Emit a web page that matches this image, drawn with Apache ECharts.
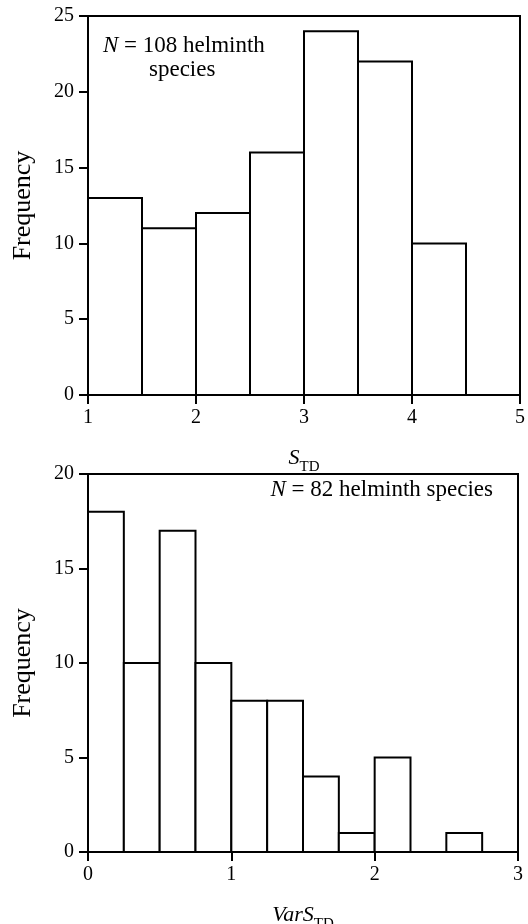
<!DOCTYPE html>
<html>
<head>
<meta charset="utf-8">
<script src="https://cdn.jsdelivr.net/npm/echarts@6/dist/echarts.min.js"></script>
<style>
  html, body { margin: 0; padding: 0; background: #fff; }
  #chart { width: 528px; height: 924px; }
</style>
</head>
<body>
<div id="chart"></div>
<script>
  // top panel: S_TD histogram
  var stdBinStart = [1, 1.5, 2, 2.5, 3, 3.5, 4, 4.5]
  var stdBinWidth = 0.5
  var stdCounts = [13, 11, 12, 16, 24, 22, 10, 0]
  var stdXTicks = [1, 2, 3, 4, 5]
  var stdYTicks = [0, 5, 10, 15, 20, 25]

  // bottom panel: VarS_TD histogram
  var varBinStart = [0, 0.25, 0.5, 0.75, 1, 1.25, 1.5, 1.75, 2, 2.25, 2.5, 2.75]
  var varBinWidth = 0.25
  var varCounts = [18, 10, 17, 10, 8, 8, 4, 1, 5, 0, 1, 0]
  var varXTicks = [0, 1, 2, 3]
  var varYTicks = [0, 5, 10, 15, 20]

  var FONT = 'Liberation Serif'

  function binData(starts, width, counts) {
    var out = []
    for (var i = 0; i < starts.length; i++) {
      out.push([starts[i], starts[i] + width, counts[i]])
    }
    return out
  }

  function renderBar(params, api) {
    if (api.value(2) <= 0) return null
    var p0 = api.coord([api.value(0), api.value(2)])
    var p1 = api.coord([api.value(1), 0])
    return {
      type: 'rect',
      shape: { x: p0[0], y: p0[1], width: p1[0] - p0[0], height: p1[1] - p0[1] },
      style: { fill: '#fff', stroke: '#000', lineWidth: 2 }
    }
  }

  function xAxisFor(gridIndex, ticks, nameRich) {
    return {
      type: 'value',
      gridIndex: gridIndex,
      min: ticks[0],
      max: ticks[ticks.length - 1],
      interval: 1,
      splitLine: { show: false },
      axisLine: { lineStyle: { color: '#000', width: 2 } },
      axisTick: { inside: false, length: 9, lineStyle: { color: '#000', width: 2 } },
      axisLabel: { color: '#000', fontFamily: FONT, fontSize: 20, margin: 13 },
      name: nameRich,
      nameLocation: 'middle',
      nameGap: 52,
      nameTextStyle: {
        color: '#000',
        rich: {
          v: { fontFamily: FONT, fontSize: 22, fontStyle: 'italic', color: '#000', verticalAlign: 'bottom', padding: [0, 0, 6, 0] },
          s: { fontFamily: FONT, fontSize: 15, color: '#000', verticalAlign: 'bottom' }
        }
      }
    }
  }

  function yAxisFor(gridIndex, ticks) {
    return {
      type: 'value',
      gridIndex: gridIndex,
      min: ticks[0],
      max: ticks[ticks.length - 1],
      interval: 5,
      splitLine: { show: false },
      axisLine: { show: true, lineStyle: { color: '#000', width: 2 } },
      axisTick: { show: true, length: 9, lineStyle: { color: '#000', width: 2 } },
      axisLabel: { color: '#000', fontFamily: FONT, fontSize: 20, margin: 14 },
      name: 'Frequency',
      nameLocation: 'middle',
      nameGap: 52,
      nameTextStyle: { color: '#000', fontFamily: FONT, fontSize: 26 }
    }
  }

  var option = {
    backgroundColor: '#fff',
    animation: false,
    grid: [
      { left: 88, top: 16, width: 432, height: 379, outerBoundsMode: 'none', show: true, borderColor: '#000', borderWidth: 2, backgroundColor: 'transparent' },
      { left: 88, top: 474, width: 430, height: 378, outerBoundsMode: 'none', show: true, borderColor: '#000', borderWidth: 2, backgroundColor: 'transparent' }
    ],
    xAxis: [
      xAxisFor(0, stdXTicks, '{v|S}{s|TD}'),
      xAxisFor(1, varXTicks, '{v|VarS}{s|TD}')
    ],
    yAxis: [
      yAxisFor(0, stdYTicks),
      yAxisFor(1, varYTicks)
    ],
    series: [
      {
        type: 'custom',
        xAxisIndex: 0,
        yAxisIndex: 0,
        renderItem: renderBar,
        encode: { x: [0, 1], y: 2 },
        data: binData(stdBinStart, stdBinWidth, stdCounts)
      },
      {
        type: 'custom',
        xAxisIndex: 1,
        yAxisIndex: 1,
        renderItem: renderBar,
        encode: { x: [0, 1], y: 2 },
        data: binData(varBinStart, varBinWidth, varCounts)
      }
    ],
    graphic: [
      {
        type: 'text', left: 103, top: 34,
        style: {
          text: '{n|N} = 108 helminth',
          fill: '#000',
          font: '23px ' + FONT,
          rich: { n: { fontFamily: FONT, fontSize: 23, fontStyle: 'italic', fill: '#000' } }
        }
      },
      {
        type: 'text', left: 149, top: 58,
        style: { text: 'species', fill: '#000', font: '23px ' + FONT }
      },
      {
        type: 'text', right: 35, top: 478,
        style: {
          text: '{n|N} = 82 helminth species',
          fill: '#000',
          font: '23px ' + FONT,
          rich: { n: { fontFamily: FONT, fontSize: 23, fontStyle: 'italic', fill: '#000' } }
        }
      }
    ]
  }

  var chart = echarts.init(document.getElementById('chart'))
  chart.setOption(option)
</script>
</body>
</html>
